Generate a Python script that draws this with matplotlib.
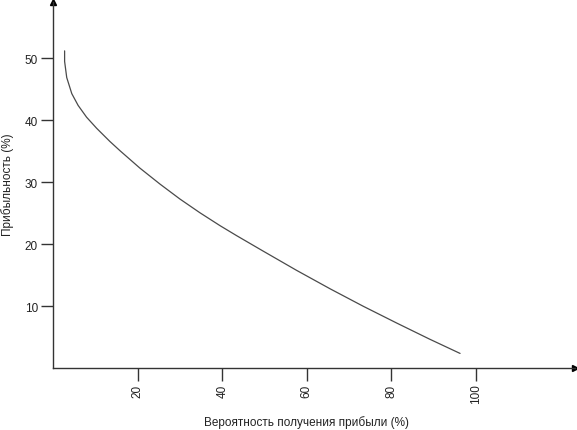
import matplotlib
matplotlib.use("Agg")
import matplotlib.pyplot as plt

plt.rcParams['font.family'] = ['Liberation Sans', 'DejaVu Sans']

# Data
probability = [2.7, 2.7, 3.2, 4.4, 5.9, 7.9, 10.3, 13.4, 15.8, 20.5, 25.3, 30.0,
               34.7, 39.5, 43.4, 49.7, 57.6, 65.6, 73.4, 81.3, 89.1, 96.3]
profitability = [51.2, 49.5, 46.9, 44.3, 42.4, 40.5, 38.7, 36.6, 35.1, 32.3, 29.7, 27.3,
                 25.1, 23.0, 21.4, 18.9, 15.8, 12.8, 10.0, 7.3, 4.7, 2.4]
x_ticks = [20, 40, 60, 80, 100]
y_ticks = [10, 20, 30, 40, 50]
x_label = "Вероятность получения прибыли (%)"
y_label = "Прибыльность (%)"

W, H = 577, 431
fig = plt.figure(figsize=(W / 100, H / 100), dpi=100)
left_px, bottom_px = 53.2, 369.3
right_px, top_px = 575.0, 3.0
ax = fig.add_axes([left_px / W, (H - bottom_px) / H,
                   (right_px - left_px) / W, (bottom_px - top_px) / H])

axis_color = '#333333'
ax.plot(probability, profitability, color='#4a4a4a', lw=0.9,
        solid_joinstyle='round', solid_capstyle='round')

ax.set_xlim(0, (right_px - left_px) / 4.225)
ax.set_ylim(0, (bottom_px - top_px) / 6.2)

for s in ['top', 'right']:
    ax.spines[s].set_visible(False)
for s in ['left', 'bottom']:
    ax.spines[s].set_color(axis_color)
    ax.spines[s].set_linewidth(1.0)

# arrowheads
ax.plot(1, 0, marker='>', color='black', markersize=5, transform=ax.transAxes, clip_on=False)
ax.plot(0, 1, marker='^', color='black', markersize=5, transform=ax.transAxes, clip_on=False)

ax.set_xticks(x_ticks)
ax.set_xticklabels([str(v) for v in x_ticks], rotation=90, va='top')
ax.set_yticks(y_ticks)
ax.set_yticklabels([str(v) for v in y_ticks])
ax.tick_params(axis='both', direction='out', length=9, width=1.0, color=axis_color,
               labelsize=8.5, labelcolor='#222222', pad=2)

ax.set_xlabel(x_label, fontsize=8.5, color='#222222')
ax.xaxis.set_label_coords(0.485, -0.144)
ax.xaxis.label.set_va('center')
ax.set_ylabel(y_label, fontsize=8.5, color='#222222')
ax.yaxis.set_label_coords(-0.0866, 0.503)
ax.yaxis.label.set_va('center')

fig.savefig('out.png', dpi=100)
